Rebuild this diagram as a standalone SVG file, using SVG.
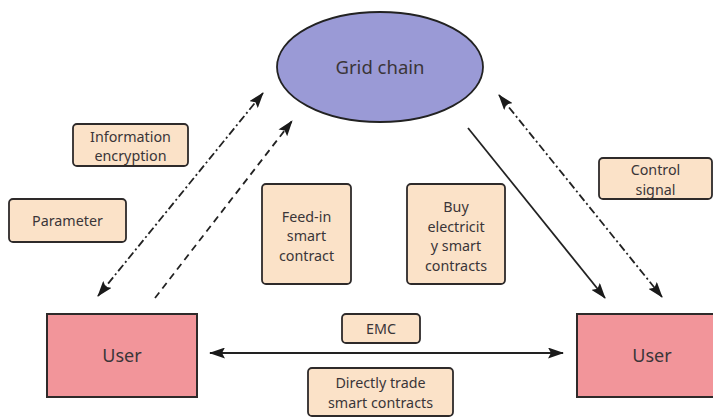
<svg xmlns="http://www.w3.org/2000/svg" width="713" height="418" viewBox="0 0 713 418">
<style>
text{font-family:"Noto Sans","Open Sans","DejaVu Sans",sans-serif;fill:#3a3538;text-anchor:middle}
.lbl{fill:#fbe2c8;stroke:#2e2a2a;stroke-width:1.8}
.lt{font-size:14.3px}
.user{fill:#f2959a;stroke:#2e2a2a;stroke-width:2}
.c{stroke:#222;stroke-width:1.8;fill:none}
.dd{stroke-dasharray:8 3 2 3}
.ds{stroke-dasharray:7 5}
</style>
<defs>
<marker id="ah" viewBox="0 0 16 11" refX="15" refY="5.5" markerWidth="16" markerHeight="11" markerUnits="userSpaceOnUse" orient="auto-start-reverse">
<path d="M0,0 L16,5.5 L0,11 L3,5.5 Z" fill="#1a1a1a"/>
</marker>
</defs>
<rect width="713" height="418" fill="#ffffff"/>
<g id="connectors">
<line class="c dd" x1="98" y1="296" x2="263" y2="93" marker-start="url(#ah)" marker-end="url(#ah)"/>
<line class="c ds" x1="155" y1="298" x2="292" y2="121" marker-end="url(#ah)"/>
<line class="c" x1="468" y1="128" x2="605" y2="298" marker-end="url(#ah)"/>
<line class="c dd" x1="499" y1="95" x2="662" y2="297" marker-start="url(#ah)" marker-end="url(#ah)"/>
<line class="c" x1="210" y1="353" x2="563" y2="353" marker-start="url(#ah)" marker-end="url(#ah)"/>
</g>
<g id="grid-chain">
<ellipse cx="380" cy="67" rx="103" ry="55" fill="#9a9ad6" stroke="#222" stroke-width="1.8"/>
<text x="380" y="74" font-size="18.5">Grid chain</text>
</g>
<g id="info-encryption">
<rect class="lbl" x="73" y="124" width="115" height="42" rx="4"/>
<text class="lt" x="130.5" y="141.5">Information</text>
<text class="lt" x="130.5" y="161">encryption</text>
</g>
<g id="parameter">
<rect class="lbl" x="9" y="199" width="117" height="43" rx="4"/>
<text class="lt" x="67.5" y="226">Parameter</text>
</g>
<g id="feed-in">
<rect class="lbl" x="262" y="184" width="89" height="100" rx="4"/>
<text class="lt" x="306.5" y="221.5">Feed-in</text>
<text class="lt" x="306.5" y="241">smart</text>
<text class="lt" x="306.5" y="260.5">contract</text>
</g>
<g id="buy">
<rect class="lbl" x="407" y="184" width="98" height="100" rx="4"/>
<text class="lt" x="456" y="212">Buy</text>
<text class="lt" x="456" y="231.5">electricit</text>
<text class="lt" x="456" y="251">y smart</text>
<text class="lt" x="456" y="270.5">contracts</text>
</g>
<g id="control-signal">
<rect class="lbl" x="599" y="158" width="113" height="41" rx="4"/>
<text class="lt" x="655.5" y="175">Control</text>
<text class="lt" x="655.5" y="194.5">signal</text>
</g>
<g id="emc">
<rect class="lbl" x="342" y="314" width="78" height="29" rx="4"/>
<text class="lt" x="381" y="334">EMC</text>
</g>
<g id="direct-trade">
<rect class="lbl" x="308" y="368" width="145" height="48" rx="4"/>
<text class="lt" x="380.5" y="388">Directly trade</text>
<text class="lt" x="380.5" y="407.5">smart contracts</text>
</g>
<g id="user-left">
<rect class="user" x="47" y="314" width="150" height="83"/>
<text x="122" y="362" font-size="18">User</text>
</g>
<g id="user-right">
<rect class="user" x="577" y="314" width="150" height="83"/>
<text x="652" y="362" font-size="18">User</text>
</g>
</svg>
